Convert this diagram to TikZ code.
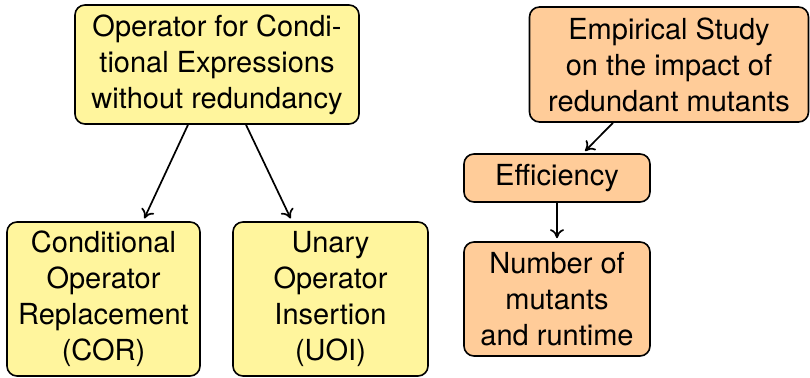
\documentclass[tikz,border=0pt]{standalone}
\usepackage{fontspec}
\setmainfont{TeX Gyre Heros}
\usetikzlibrary{arrows.meta}
\definecolor{boxyellow}{RGB}{255,245,157}
\definecolor{boxorange}{RGB}{255,204,153}
\begin{document}
\begin{tikzpicture}[x=1pt,y=1pt,
  box/.style={draw=black, line width=0.8pt, rounded corners=5pt, align=center,
    inner sep=0pt, font=\fontsize{14.5pt}{18pt}\selectfont},
  ybox/.style={box, fill=boxyellow},
  obox/.style={box, fill=boxorange},
  link/.style={-{To[length=4.5pt,width=7pt]}, line width=0.85pt, shorten >=1.5pt}]
  \useasboundingbox (0,0) rectangle (405,-189);

  % operator branch
  \node[ybox, minimum width=142pt, minimum height=59.5pt] (op) at (108.5,-32.25)
    {Operator for Condi-\\tional Expressions\\without redundancy};
  \node[ybox, minimum width=96.5pt, minimum height=77pt] (cor) at (51.75,-149.5)
    {Conditional\\Operator\\Replacement\\(COR)};
  \node[ybox, minimum width=97.5pt, minimum height=77pt] (uoi) at (165.25,-149.5)
    {Unary\\Operator\\Insertion\\(UOI)};

  % empirical study branch
  \node[obox, minimum width=139.5pt, minimum height=57.5pt] (emp) at (334.5,-32.25)
    {Empirical Study\\on the impact of\\redundant mutants};
  \node[obox, minimum width=93pt, minimum height=24pt] (eff) at (278.5,-89)
    {Efficiency};
  \node[obox, minimum width=93pt, minimum height=57pt] (num) at (278.5,-149.5)
    {Number of\\mutants\\and runtime};

  \draw[link] ([xshift=-14.5pt]op.south) -- ([xshift=19.75pt]cor.north);
  \draw[link] ([xshift=14.5pt]op.south) -- ([xshift=-19.25pt]uoi.north);
  \draw[link] ([xshift=-28pt]emp.south) -- ([xshift=13pt]eff.north);
  \draw[link] (eff.south) -- (num.north);
\end{tikzpicture}
\end{document}
